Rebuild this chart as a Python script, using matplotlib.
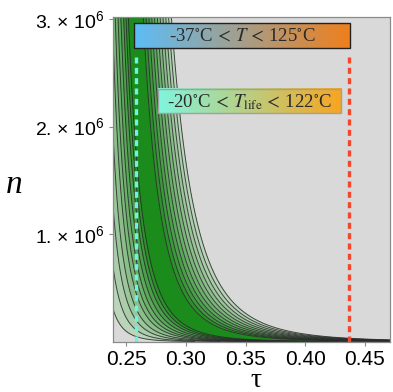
import numpy as np
import matplotlib
matplotlib.use("Agg")
import matplotlib.pyplot as plt
from matplotlib.colors import LinearSegmentedColormap, to_rgb
from matplotlib.patches import Rectangle

# ---------------- data ----------------
tau_limits = [0.2389, 0.471]
n_limits = [0.0, 3.02e6]
# contour family: tau = tau0 + a * (n/1e6 + n_off)^(-expo); levels are the "a" values
tau0 = 0.2
expo = 0.22
n_off = 0.003
left_levels = [0.030, 0.036, 0.041, 0.045, 0.049, 0.052, 0.055, 0.058, 0.061, 0.0635, 0.066]
right_levels = [0.082, 0.085, 0.088, 0.091, 0.094, 0.097, 0.100, 0.103, 0.106, 0.109, 0.112]

xticks = [0.25, 0.30, 0.35, 0.40, 0.45]
xticklabels = ["0.25", "0.30", "0.35", "0.40", "0.45"]
yticks = [1e6, 2e6, 3e6]
yticklabels = ["1. × 10$^{6}$", "2. × 10$^{6}$", "3. × 10$^{6}$"]

cyan_tau = 0.2578
red_tau = 0.4366
dash_top_n = 2.66e6

label1 = r"-37$^{\circ}$C$\,<\,T\,<\,$125$^{\circ}$C"
label2 = r"-20$^{\circ}$C$\,<\,T_{\rm life}\,<\,$122$^{\circ}$C"

# ---------------- style ----------------
plt.rcParams["mathtext.fontset"] = "custom"
plt.rcParams["mathtext.rm"] = "Liberation Sans"
plt.rcParams["mathtext.it"] = "Liberation Sans:italic"
plt.rcParams["font.family"] = ["Liberation Sans", "DejaVu Sans"]

bg_gray = "#d9d9d9"
light_green = "#cbdccb"
deep_green = "#1b8b1b"

fig = plt.figure(figsize=(3.93, 3.92), dpi=100)
ax = fig.add_axes([0.2875, 0.1288, 0.7049, 0.8278])
ax.set_facecolor(bg_gray)

# field
tau = np.linspace(tau_limits[0], tau_limits[1], 900)
n = np.linspace(n_limits[0], n_limits[1], 2500)
T, N = np.meshgrid(tau, n)
Z = (T - tau0) * (N / 1e6 + n_off) ** expo

levels = left_levels + right_levels
cmap = LinearSegmentedColormap.from_list("g", [light_green, deep_green])
nl = len(left_levels) - 1
nr = len(right_levels) - 1
band_colors = []
for i in range(nl):
    band_colors.append(cmap((i + 1) / (nl + 1)))
band_colors.append(cmap(1.0))
for j in range(nr):
    band_colors.append(cmap((nr - j) / (nr + 1)))

ax.contourf(T, N, Z, levels=levels, colors=band_colors)
ax.contour(T, N, Z, levels=levels, colors="#2b2b2b", linewidths=0.7, alpha=0.85)

# dashed markers
ax.plot([cyan_tau, cyan_tau], [0, dash_top_n], color="#6ff2e4", lw=2.4,
        dashes=(1.8, 1.3), solid_capstyle="butt")
ax.plot([red_tau, red_tau], [0, dash_top_n], color="#f2472d", lw=2.4,
        dashes=(1.8, 1.3), solid_capstyle="butt")

ax.set_xlim(tau_limits)
ax.set_ylim(n_limits)
ax.set_xticks(xticks)
ax.set_xticklabels(xticklabels, fontsize=15)
ax.set_yticks(yticks)
ax.set_yticklabels(yticklabels, fontsize=14)
ax.tick_params(direction="out", length=3, width=0.8, color="#888888", pad=3)
for s in ax.spines.values():
    s.set_color("#8a8a8a")
    s.set_linewidth(0.9)

# legend-like gradient boxes
def grad_box(x0, x1, y0, y1, c_left, c_right, edge, text):
    cl = np.array(to_rgb(c_left))
    cr = np.array(to_rgb(c_right))
    t = np.linspace(0, 1, 256)[None, :, None]
    img = cl[None, None, :] * (1 - t) + cr[None, None, :] * t
    ax.imshow(img, extent=[x0, x1, y0, y1], transform=ax.transAxes,
              aspect="auto", zorder=5, interpolation="bilinear")
    ax.add_patch(Rectangle((x0, y0), x1 - x0, y1 - y0, transform=ax.transAxes,
                           fill=False, edgecolor=edge, lw=1.0, zorder=6))
    ax.text((x0 + x1) / 2, (y0 + y1) / 2 - 0.003, text, transform=ax.transAxes,
            ha="center", va="center", fontsize=13.5, color="#2a2a2a",
            family="Liberation Serif", math_fontfamily="stix", zorder=7)

grad_box(0.0758, 0.8556, 0.9045, 0.9815, "#5cbdf7", "#ef7f1c", "#222222", label1)
grad_box(0.1625, 0.8231, 0.704, 0.778, "#80f5de", "#f8a520", "#a0a0a0", label2)

ax.set_xlim(tau_limits)
ax.set_ylim(n_limits)

fig.text(0.037, 0.528, "n", fontsize=24, style="italic", family="Liberation Serif",
         ha="center", va="center")
fig.text(0.652, 0.029, "τ", fontsize=20, family="Liberation Serif", ha="center", va="center")

fig.savefig("out.png", dpi=100, facecolor="white")
